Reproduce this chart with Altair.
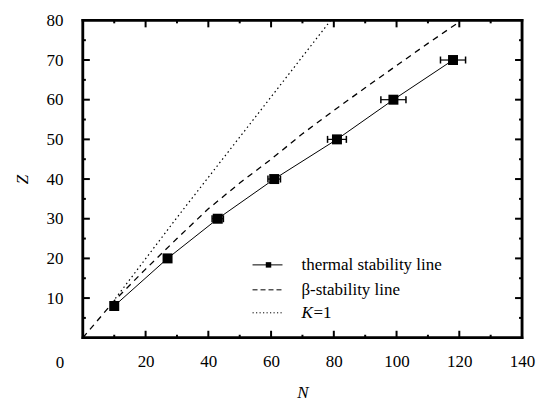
import altair as alt
import pandas as pd

# ---- data ----
thermal_N = [10, 27, 43, 61, 81, 99, 118]
thermal_Z = [8, 20, 30, 40, 50, 60, 70]
thermal_err = [1, 1, 1.8, 2, 3, 4, 4]

beta_N = [0, 10, 20, 30, 40, 50, 60, 70, 80, 90, 100, 110, 120]
beta_Z = [0, 9.3, 17.3, 25, 32.5, 39, 45, 51.4, 57.3, 63, 68.6, 74.2, 79.6]

k1_N = [9.5, 30, 60, 79]
k1_Z = [9, 30.3, 60.7, 80]

x_labels = [20, 40, 60, 80, 100, 120, 140]
y_labels = [10, 20, 30, 40, 50, 60, 70, 80]
x_major = [20, 40, 60, 80, 100, 120]
x_minor = [10, 30, 50, 70, 90, 110, 130]
y_major = [10, 20, 30, 40, 50, 60, 70]
y_minor = [5, 15, 25, 35, 45, 55, 65, 75]

legend_labels = ["thermal stability line", "\u03b2-stability line", "K", "=1"]

FONT = "Liberation Serif, Times New Roman, serif"
W, H = 440, 318

thermal = pd.DataFrame({
    "N": thermal_N, "Z": thermal_Z,
    "lo": [n - e for n, e in zip(thermal_N, thermal_err)],
    "hi": [n + e for n, e in zip(thermal_N, thermal_err)],
})
beta = pd.DataFrame({"N": beta_N, "Z": beta_Z})
k1 = pd.DataFrame({"N": k1_N, "Z": k1_Z})
one = pd.DataFrame({"N": [0], "Z": [0]})

xs = alt.Scale(domain=[0, 140], nice=False)
ys = alt.Scale(domain=[0, 80], nice=False)

common = dict(
    ticks=False, domain=False, grid=False,
    labelFont=FONT, labelFontSize=17, labelColor="black",
    labelOverlap=False, labelFlush=False,
    titleFont=FONT, titleFontSize=17, titleFontStyle="italic",
    titleFontWeight="normal", titleColor="black",
)
x_axis = alt.Axis(values=x_labels, labelPadding=16, title="N", titlePadding=15, **common)
y_axis = alt.Axis(values=y_labels, labelPadding=20, title="Z", titlePadding=14, **common)

thermal_line = alt.Chart(thermal).mark_line(color="black", strokeWidth=1).encode(
    x=alt.X("N:Q", scale=xs, axis=x_axis),
    y=alt.Y("Z:Q", scale=ys, axis=y_axis),
)
beta_line = alt.Chart(beta).mark_line(color="black", strokeWidth=1.3, strokeDash=[6, 5]).encode(
    x=alt.X("N:Q", scale=xs), y=alt.Y("Z:Q", scale=ys))
k1_line = alt.Chart(k1).mark_line(color="black", strokeWidth=1.2, strokeDash=[1.5, 3]).encode(
    x=alt.X("N:Q", scale=xs), y=alt.Y("Z:Q", scale=ys))
err_rule = alt.Chart(thermal).mark_rule(color="black", strokeWidth=1.2).encode(
    x=alt.X("lo:Q", scale=xs), x2="hi:Q", y=alt.Y("Z:Q", scale=ys))
cap_lo = alt.Chart(thermal).mark_tick(color="black", orient="vertical", size=7, thickness=1.5, opacity=1).encode(
    x=alt.X("lo:Q", scale=xs), y=alt.Y("Z:Q", scale=ys))
cap_hi = alt.Chart(thermal).mark_tick(color="black", orient="vertical", size=7, thickness=1.5, opacity=1).encode(
    x=alt.X("hi:Q", scale=xs), y=alt.Y("Z:Q", scale=ys))
squares = alt.Chart(thermal).mark_square(size=100, color="black", opacity=1).encode(
    x=alt.X("N:Q", scale=xs), y=alt.Y("Z:Q", scale=ys))

zero = alt.Chart(one).mark_text(text="0", font=FONT, fontSize=17, dx=-23, dy=25,
                                baseline="middle", align="center", color="black").encode(
    x=alt.X("N:Q", scale=xs), y=alt.Y("Z:Q", scale=ys))

# inward ticks on all four sides
def xticks(vals, size, top):
    df = pd.DataFrame({"N": vals})
    yv = size / 2 if top else H - size / 2
    return alt.Chart(df).mark_tick(color="black", orient="vertical", size=size, thickness=2, opacity=1).encode(
        x=alt.X("N:Q", scale=xs), y=alt.value(yv))

def yticks(vals, size, right):
    df = pd.DataFrame({"Z": vals})
    xv = W - size / 2 if right else size / 2
    return alt.Chart(df).mark_tick(color="black", orient="horizontal", size=size, thickness=2, opacity=1).encode(
        y=alt.Y("Z:Q", scale=ys), x=alt.value(xv))

tick_layers = [
    xticks(x_major, 7, False), xticks(x_minor, 3, False),
    xticks(x_major, 7, True), xticks(x_minor, 3, True),
    yticks(y_major, 7, False), yticks(y_minor, 3, False),
    yticks(y_major, 7, True), yticks(y_minor, 3, True),
]

# plot frame drawn as thin filled bars
h = 1.25
def bar(x0, x1, y0, y1):
    return alt.Chart(one).mark_rect(color="black", opacity=1).encode(
        x=alt.value(x0), x2=alt.value(x1), y=alt.value(y0), y2=alt.value(y1))

frame = [
    bar(-h, W + h, -h, h),
    bar(-h, W + h, H - h, H + h),
    bar(-h, h, -h, H + h),
    bar(W - h, W + h, -h, H + h),
]

# manual legend
leg1 = alt.Chart(one).mark_rule(color="black", strokeWidth=1).encode(
    x=alt.value(170), x2=alt.value(200), y=alt.value(245))
leg1sq = alt.Chart(one).mark_square(size=30, color="black", opacity=1).encode(
    x=alt.value(186), y=alt.value(245))
leg2 = alt.Chart(one).mark_rule(color="black", strokeWidth=1, strokeDash=[5, 3]).encode(
    x=alt.value(170), x2=alt.value(200), y=alt.value(270))
leg3 = alt.Chart(one).mark_rule(color="black", strokeWidth=1, strokeDash=[1.2, 2.3]).encode(
    x=alt.value(170), x2=alt.value(200), y=alt.value(293))
txt_style = dict(font=FONT, fontSize=17, align="left", baseline="middle", color="black")
t1 = alt.Chart(one).mark_text(text=legend_labels[0], **txt_style).encode(x=alt.value(219), y=alt.value(245))
t2 = alt.Chart(one).mark_text(text=legend_labels[1], **txt_style).encode(x=alt.value(219), y=alt.value(270))
t3 = alt.Chart(one).mark_text(text=legend_labels[2], fontStyle="italic", **txt_style).encode(x=alt.value(219), y=alt.value(293))
t4 = alt.Chart(one).mark_text(text=legend_labels[3], **txt_style).encode(x=alt.value(231), y=alt.value(293))

chart = alt.layer(
    thermal_line, beta_line, k1_line, err_rule, cap_lo, cap_hi, squares, zero,
    *tick_layers, *frame,
    leg1, leg1sq, leg2, leg3, t1, t2, t3, t4,
).properties(
    width=W, height=H,
    background="white",
    autosize=alt.AutoSizeParams(type="none"),
    padding={"left": 75, "top": 12, "right": 20, "bottom": 64},
).configure_view(stroke="black", strokeWidth=2.5)

chart.save("out.html", embed_options={"renderer": "svg", "actions": False})
